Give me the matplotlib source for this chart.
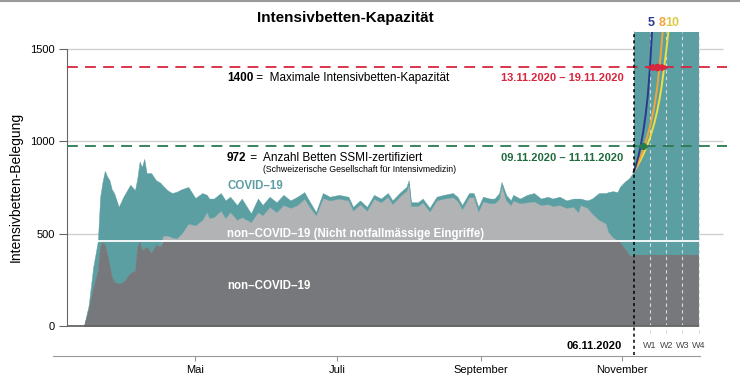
import numpy as np
import pandas as pd
import matplotlib
matplotlib.use("Agg")
import matplotlib.pyplot as plt
from matplotlib.lines import Line2D

plt.rcParams["font.family"] = ["Liberation Sans", "DejaVu Sans"]

# -----------------------------
# 1. DATA
# -----------------------------
start = pd.Timestamp("2020-03-14")          # first day with data = day 0

# observed occupancy, days since 14.03.2020
obs_days = [0, 2, 4, 6, 7, 8, 9, 10, 11, 12, 13, 15, 17, 20, 22, 23, 24, 25, 26, 27,
            29, 31, 33, 34, 36, 38, 40, 42, 45, 48, 51, 53, 54, 56, 59, 61, 63, 66, 68, 72,
            75, 77, 80, 83, 86, 89, 92, 95, 97, 100, 103, 106, 110, 114, 116, 119, 122, 125, 128, 131,
            133, 136, 139, 140, 141, 144, 146, 149, 152, 155, 159, 161, 163, 166, 168, 170, 172, 175, 177, 179,
            180, 182, 184, 185, 188, 191, 194, 197, 200, 202, 205, 208, 211, 213, 214, 217, 219, 222, 225, 226,
            228, 230, 231, 233, 235, 237]
noncovid = [0, 90, 210, 300, 430, 455, 440, 390, 330, 265, 240, 230, 238, 287, 300, 430, 460, 410, 420, 430,
            395, 440, 430, 490, 490, 480, 475, 500, 555, 545, 575, 617, 585, 590, 625, 585, 617, 575, 590, 563,
            617, 600, 645, 617, 655, 640, 655, 690, 650, 600, 693, 680, 690, 680, 625, 660, 625, 690, 670, 700,
            660, 700, 733, 770, 650, 650, 670, 620, 680, 690, 698, 678, 633, 697, 697, 620, 675, 665, 665, 690,
            760, 680, 655, 680, 665, 670, 675, 655, 660, 650, 655, 640, 645, 617, 655, 640, 610, 575, 555, 510,
            480, 465, 455, 420, 385, 375]
total = [0, 110, 320, 460, 700, 780, 840, 810, 790, 740, 720, 645, 700, 765, 735, 800, 890, 860, 905, 828,
         828, 790, 775, 760, 735, 720, 727, 740, 753, 693, 720, 710, 690, 690, 720, 680, 700, 655, 690, 610,
         690, 655, 700, 670, 710, 680, 700, 725, 680, 617, 720, 700, 710, 700, 645, 680, 645, 710, 690, 720,
         680, 720, 753, 790, 670, 670, 690, 640, 700, 710, 720, 700, 655, 720, 720, 645, 700, 690, 690, 720,
         780, 710, 680, 710, 690, 710, 720, 690, 700, 690, 700, 680, 690, 690, 690, 680, 690, 720, 720, 725,
         730, 725, 753, 780, 800, 834]

cap_urgent = 460            # white line: non-COVID above it = elective
proj_noncovid = 384         # non-COVID assumed in the projection
forecast_start = 237        # 06.11.2020
forecast_end = 265          # 04.12.2020
week_days = [244, 251, 258, 265]
week_labels = ["W1", "W2", "W3", "W4"]

# projections by doubling time (days), daily values from 06.11.2020
proj_5 = [834, 872, 918, 975, 1045, 1130, 1240, 1400, 1620]
proj_8 = [834, 860, 888, 918, 952, 990, 1032, 1080, 1135, 1200, 1280, 1390, 1520, 1680]
proj_10 = [834, 855, 877, 900, 926, 954, 985, 1020, 1060, 1105, 1158, 1220, 1295, 1390, 1490, 1600, 1720]

max_capacity = 1400
ssmi_beds = 972
red_days = [244, 247, 250]     # 13.11. / 16.11. / 19.11.
green_days = [240, 241, 242]   # 09.11. / 10.11. / 11.11.

month_ticks = ["2020-05-01", "2020-07-01", "2020-09-01", "2020-11-01"]
month_labels = ["Mai", "Juli", "September", "November"]
month_days = [(pd.Timestamp(d) - start).days for d in month_ticks]

# colours
teal = "#5b9fa3"
light_gray = "#b1b3b5"
dark_gray = "#77787b"
red = "#d7263d"
green = "#2a7a50"
blue = "#2c3a8c"
orange = "#f0a43a"
yellow = "#ece040"

# -----------------------------
# 2. FIGURE
# -----------------------------
W, H = 740, 384
fig = plt.figure(figsize=(W / 100, H / 100), dpi=100)
ax = fig.add_axes([67 / W, 58 / H, (727 - 67) / W, (326 - 32) / H])

x_left, x_right = -7.3, 277.2
ax.set_xlim(x_left, x_right)
ax.set_ylim(0, 1592)

# gridlines
ax.hlines([500, 1000, 1500], x_left, 275.4, color="#d0d0d0", lw=1, zorder=0)

# observed areas
ax.fill_between(obs_days, 0, noncovid, color=light_gray, lw=0.3, zorder=1)
ax.fill_between(obs_days, noncovid, total, color=teal, lw=0.3, zorder=1)
ax.fill_between(obs_days, 0, np.minimum(noncovid, cap_urgent), color=dark_gray, lw=0.3, zorder=2)

# projection block
ax.fill_between([forecast_start, forecast_end], 0, proj_noncovid, color=dark_gray, lw=0, zorder=2)
ax.fill_between([forecast_start, forecast_end], proj_noncovid, 1592, color=teal, lw=0, zorder=1)

# white cap line
ax.hlines(cap_urgent, 6, forecast_end, color="white", lw=1.3, zorder=3)

# week dashes
for d, lab in zip(week_days, week_labels):
    ax.plot([d, d], [-38, 1592], color="#dcdcdc", lw=0.8, ls=(0, (3, 3)), clip_on=False, zorder=3)
    ax.text(d, -108, lab, ha="center", va="center", fontsize=6.5, color="#444444")

# bottom base line
ax.hlines(0, x_left, forecast_end, color="#666666", lw=1.3, zorder=4, clip_on=False)

# reference lines
ax.hlines(max_capacity, x_left, x_right, color=red, lw=1.3, ls=(0, (6, 4)), zorder=4)
ax.hlines(ssmi_beds, x_left, x_right, color=green, lw=1.3, ls=(0, (6, 4)), zorder=4)

# projection curves
for vals, col in [(proj_10, yellow), (proj_8, orange), (proj_5, blue)]:
    ax.plot(forecast_start + np.arange(len(vals)), vals, color=col, lw=1.4, zorder=5)

# crossing markers
ax.plot([red_days[0], red_days[-1]], [max_capacity] * 2, color=red, lw=1.3, zorder=6)
ax.plot(red_days[0], max_capacity, marker="<", ms=4.5, color=red, zorder=6)
ax.plot(red_days[1], max_capacity, marker="o", ms=4.5, color=red, zorder=6)
ax.plot(red_days[2], max_capacity, marker=">", ms=4.5, color=red, zorder=6)
ax.plot([green_days[0], green_days[-1]], [ssmi_beds] * 2, color=green, lw=1.3, zorder=6)
ax.plot(green_days[0], ssmi_beds, marker="<", ms=4.5, color=green, zorder=6)
ax.plot(green_days[1], ssmi_beds, marker="o", ms=4, color=green, zorder=6)
ax.plot(green_days[2], ssmi_beds, marker=">", ms=4.5, color=green, zorder=6)

# forecast start line
ax.plot([forecast_start, forecast_start], [-155, 1595], color="black", lw=1.1,
        ls=(0, (2, 2)), clip_on=False, zorder=7)
ax.text(232, -108, "06.11.2020", ha="right", va="center", fontsize=8, fontweight="bold")

# curve labels
ax.text(244.6, 1640, "5", color=blue, fontsize=9, fontweight="bold", ha="center", va="center")
ax.text(249.0, 1640, "8", color=orange, fontsize=9, fontweight="bold", ha="center", va="center")
ax.text(253.4, 1640, "10", color="#dccb4a", fontsize=9, fontweight="bold", ha="center", va="center")

# annotations
t1 = ax.text(61.7, 1343, "1400", fontsize=8.5, fontweight="bold", va="center", zorder=8)
ax.annotate(" =  Maximale Intensivbetten-Kapazität", xy=(1, 0.5), xycoords=t1,
            va="center", fontsize=8.5, zorder=8)
t2 = ax.text(61.7, 910, "972", fontsize=8.5, fontweight="bold", va="center", zorder=8)
ax.annotate(" =  Anzahl Betten SSMI-zertifiziert", xy=(1, 0.5), xycoords=t2,
            va="center", fontsize=8.5, zorder=8)
ax.text(77.2, 845, "(Schweizerische Gesellschaft für Intensivmedizin)", fontsize=6.3,
        va="center", zorder=8)
ax.text(232.5, 1343, "13.11.2020 – 19.11.2020", color=red, fontsize=8, fontweight="bold",
        ha="right", va="center", zorder=8)
ax.text(232.5, 910, "09.11.2020 – 11.11.2020", color="#1f6b3e", fontsize=8, fontweight="bold",
        ha="right", va="center", zorder=8)
ax.text(61.7, 758, "COVID–19", color=teal, fontsize=8.3, fontweight="bold", va="center", zorder=8)
ax.text(61.7, 498, "non–COVID–19 (Nicht notfallmässige Eingriffe)", color="white", fontsize=8.3,
        fontweight="bold", va="center", zorder=8)
ax.text(61.7, 217, "non–COVID–19", color="white", fontsize=8.3, fontweight="bold",
        va="center", zorder=8)

# axes styling
ax.spines["top"].set_visible(False)
ax.spines["right"].set_visible(False)
ax.spines["left"].set_bounds(0, 1500)
ax.spines["left"].set_color("#666666")
ax.spines["bottom"].set_position(("outward", 21.6))
ax.spines["bottom"].set_bounds(-13.4, 265.5)
ax.spines["bottom"].set_color("#999999")

ax.set_yticks([0, 500, 1000, 1500])
ax.tick_params(axis="y", length=5.5, color="#666666", labelsize=8, pad=3)
ax.set_xticks(month_days)
ax.set_xticklabels(month_labels)
ax.tick_params(axis="x", length=3.5, color="#999999", labelsize=8, pad=3)

fig.text(345 / W, 1 - 18 / H, "Intensivbetten-Kapazität", ha="center", va="center",
         fontsize=11, fontweight="bold")
fig.text(16 / W, 1 - 187 / H, "Intensivbetten-Belegung", rotation=90, ha="center",
         va="center", fontsize=10)
fig.add_artist(Line2D([0, 1], [0.998, 0.998], color="#9a9a9a", lw=1.5))

fig.savefig("out.png", dpi=100)
